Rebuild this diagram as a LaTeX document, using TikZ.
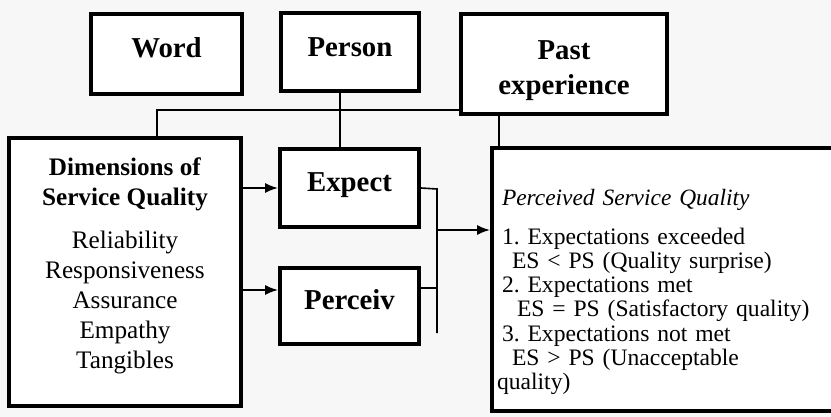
\documentclass[tikz,border=0pt]{standalone}
\usepackage{fontspec}
\setmainfont{Liberation Serif}
\frenchspacing
\usetikzlibrary{arrows.meta}

\begin{document}
\begin{tikzpicture}[x=0.5pt,y=-0.5pt,
    box/.style={draw,line width=2pt,fill=white,inner sep=0pt,align=center,
      text depth=6pt,font=\bfseries\fontsize{14.4}{17.5}\selectfont},
    link/.style={line width=0.8pt},
    feed/.style={link,-{Latex[length=6.5pt,width=5pt]}}]
      \useasboundingbox (0,0) rectangle (831,417);
      \fill[gray!6] (0,0) rectangle (831,417);
      \clip (0,0) rectangle (831,417);
      \node[box,minimum width=75.5pt,minimum height=40pt] (word) at (166.5,54) {Word};
      \node[box,minimum width=69pt,minimum height=39pt,text depth=5pt] (person) at (350,52) {Person};
      \node[box,minimum width=103pt,minimum height=50pt,text height=34pt,text depth=3pt] (past) at (564,64) {Past\\experience};
      \node[box,line width=1.8pt,minimum width=116pt,minimum height=134pt,text depth=9pt,
        font=\fontsize{12.6}{15}\selectfont] (dims) at (125,272)
        {\textbf{Dimensions of}\\\textbf{Service Quality}\\[6.5pt]Reliability\\Responsiveness\\Assurance\\Empathy\\Tangibles};
      \node[box,minimum width=69.5pt,minimum height=39pt] (expect) at (349.5,188) {Expect};
      \node[box,minimum width=69.5pt,minimum height=38pt] (perceiv) at (349.5,306) {Perceiv};
      \node[box,align=left,text width=166.5pt,inner xsep=5pt,minimum height=131.5pt,text depth=82pt,
        font=\fontsize{11.8}{12.1}\selectfont] (psq) at (668.5,279.5)
        {{\itshape\fontsize{11.7}{12.1}\selectfont Perceived Service Quality}\\[7.2pt]
         1. Expectations exceeded\\
         \hspace*{5pt}ES < PS (Quality surprise)\\
         2. Expectations met\\
         \hspace*{7.5pt}ES = PS (Satisfactory quality)\\
         3. Expectations not met\\
         \hspace*{5pt}ES > PS (Unacceptable\\
         \hspace*{-2.5pt}quality)};
      \coordinate (wjoin) at (157,110);
      \coordinate (pin) at ([yshift=8pt]perceiv.west);
      \coordinate (pout) at ([yshift=9pt]perceiv.east);
      \coordinate (bustop) at (437,189);
      \coordinate (busmid) at (437,230);
      \coordinate (busend) at (437,333);
      \draw[link] (dims.north -| wjoin) -- (wjoin) -- (wjoin -| past.west);
      \draw[link] ([xshift=-5pt]person.south) -- ([xshift=-5pt]person.south |- expect.north);
      \draw[link] ([xshift=20pt]past.south west) -- ([xshift=20pt]past.south west |- psq.north);
      \draw[feed] (dims.east |- expect) -- (expect.west);
      \draw[feed] (dims.east |- pin) -- (pin);
      \draw[link] (expect.east) -- (bustop) -- (busend);
      \draw[link] (pout) -- (pout -| bustop);
      \draw[feed] (busmid) -- (busmid -| psq.west);
    \end{tikzpicture}
\end{document}
